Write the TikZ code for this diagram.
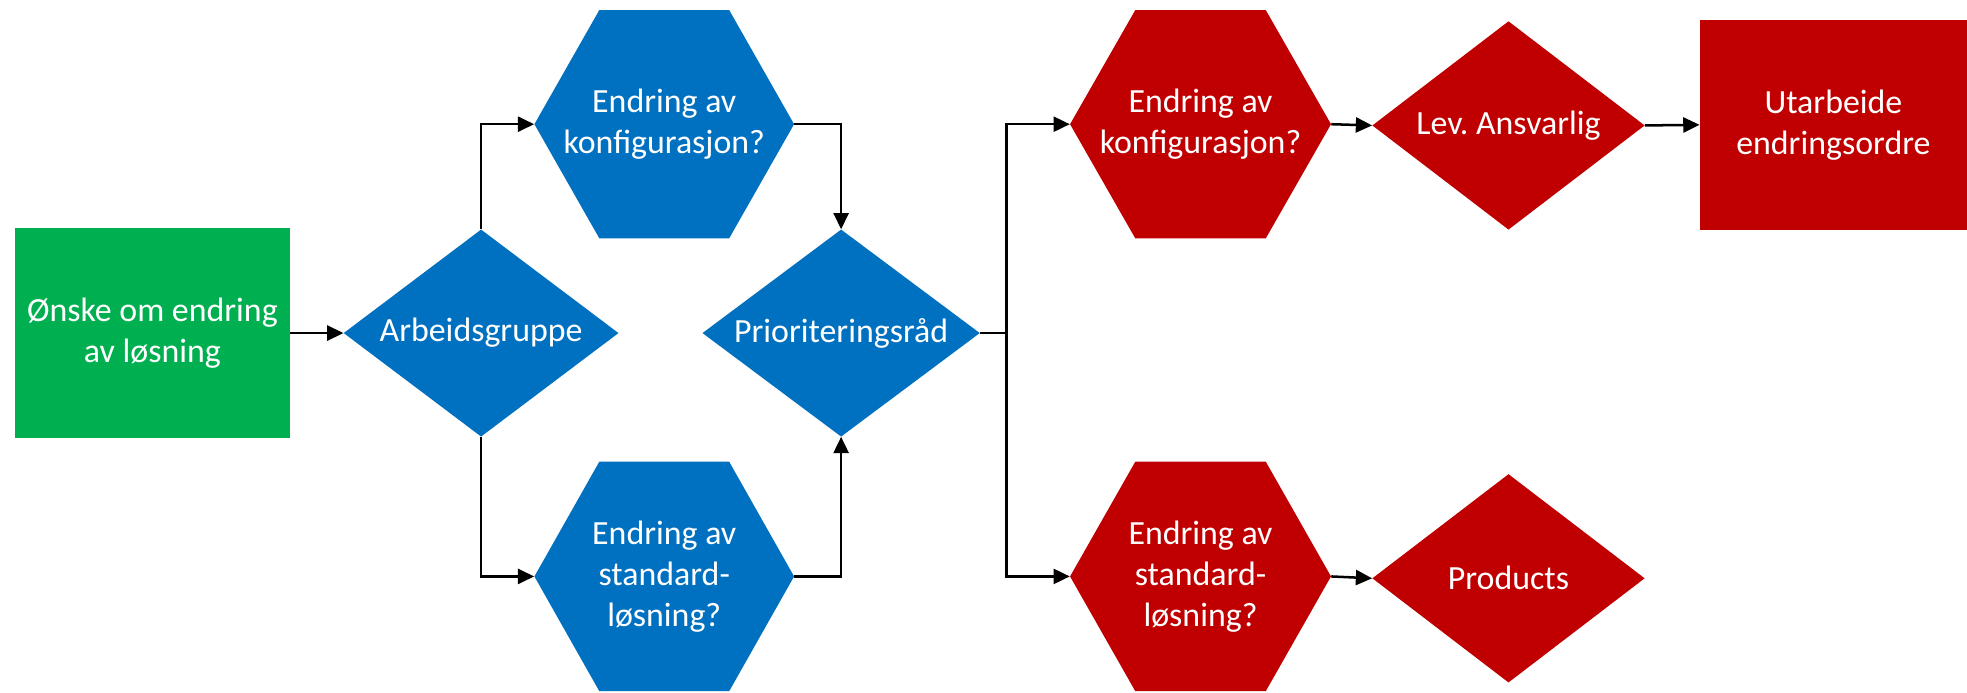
\documentclass[tikz,border=0pt]{standalone}
\usepackage{fontspec}
\setmainfont{Carlito}
\frenchspacing
\usetikzlibrary{arrows.meta,calc}
\definecolor{cblue}{HTML}{0070C0}
\definecolor{cgreen}{HTML}{00B050}
\definecolor{cred}{HTML}{C00000}
\begin{document}
\begin{tikzpicture}[x=1pt,y=-1pt,
  base/.style={inner sep=0pt, text=white, align=center, font=\fontsize{27}{32.5}\selectfont},
  boxnode/.style={base, fill=#1},
  hexnode/.style={base, path picture={
    \fill[#1] ($(path picture bounding box.north west)!.25!(path picture bounding box.north east)$)
      -- ($(path picture bounding box.north west)!.75!(path picture bounding box.north east)$)
      -- (path picture bounding box.east)
      -- ($(path picture bounding box.south west)!.75!(path picture bounding box.south east)$)
      -- ($(path picture bounding box.south west)!.25!(path picture bounding box.south east)$)
      -- (path picture bounding box.west) -- cycle;}},
  dianode/.style={base, path picture={
    \fill[#1] (path picture bounding box.north) -- (path picture bounding box.east)
      -- (path picture bounding box.south) -- (path picture bounding box.west) -- cycle;}},
  arr/.style={line width=2pt, -{Triangle[length=13pt,width=12pt]}}
]
\useasboundingbox (0,0) rectangle (1568,552);

\node[boxnode=cgreen, minimum width=219pt, minimum height=167pt] (start) at (121.5,265.5) {Ønske om endring\\av løsning};
\node[dianode=cblue, minimum width=219pt, minimum height=165pt] (ag) at (383.5,265.5) {Arbeidsgruppe};
\node[hexnode=cblue, minimum width=207pt, minimum height=182pt] (bh1) at (529.5,99) {Endring av\\konfigurasjon?};
\node[hexnode=cblue, minimum width=207pt, minimum height=183pt] (bh2) at (529.5,459.5) {Endring av\\standard-\\løsning?};
\node[dianode=cblue, minimum width=221pt, minimum height=165pt] (pr) at (670.5,265.5) {Prioriteringsråd};
\node[hexnode=cred, minimum width=208pt, minimum height=182pt] (rh1) at (957,99) {Endring av\\konfigurasjon?};
\node[hexnode=cred, minimum width=208pt, minimum height=183pt] (rh2) at (957,459.5) {Endring av\\standard-\\løsning?};
\node[dianode=cred, minimum width=217pt, minimum height=166pt] (lev) at (1202.5,100) {Lev. Ansvarlig};
\node[dianode=cred, minimum width=217pt, minimum height=166pt] (prod) at (1202.5,461) {Products};
\node[boxnode=cred, minimum width=213pt, minimum height=167pt] (utar) at (1461.5,99.5) {Utarbeide\\endringsordre};

\draw[arr] (start.east) -- (ag.west);
\draw[arr] (ag.north) |- (bh1.west);
\draw[arr] (ag.south) |- (bh2.west);
\draw[arr] (bh1.east) -| (pr.north);
\draw[arr] (bh2.east) -| (pr.south);
\coordinate (split) at ($(pr.east)+(21,0)$);
\draw[line width=2pt] (pr.east) -- (split);
\draw[arr] (split) |- (rh1.west);
\draw[arr] (split) |- (rh2.west);
\draw[arr] (rh1.east) -- (lev.west);
\draw[arr] (lev.east) -- (utar.west);
\draw[arr] (rh2.east) -- (prod.west);
\end{tikzpicture}
\end{document}
